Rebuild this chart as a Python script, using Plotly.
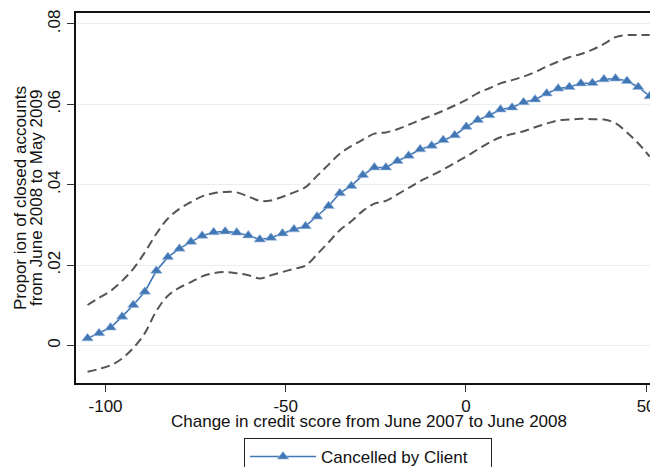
import plotly.graph_objects as go

# ---- data ----
score_change = [-105.0, -101.8, -98.6, -95.4, -92.3, -89.1, -85.9, -82.7, -79.5, -76.3,
                -73.2, -70.0, -66.8, -63.6, -60.4, -57.2, -54.1, -50.9, -47.7, -44.5,
                -41.3, -38.1, -35.0, -31.8, -28.6, -25.4, -22.2, -19.0, -15.9, -12.7,
                -9.5, -6.3, -3.1, 0.1, 3.3, 6.5, 9.6, 12.8, 16.0, 19.2,
                22.4, 25.6, 28.7, 31.9, 35.1, 38.3, 41.5, 44.7, 47.8, 51.0]

cancelled = [0.0018, 0.0031, 0.0045, 0.0072, 0.0101, 0.0134, 0.0186, 0.0220, 0.0241, 0.0258,
             0.0273, 0.0282, 0.0284, 0.0281, 0.0274, 0.0264, 0.0268, 0.0279, 0.0289, 0.0297,
             0.0321, 0.0347, 0.0379, 0.0397, 0.0424, 0.0443, 0.0443, 0.0459, 0.0472, 0.0488,
             0.0497, 0.0511, 0.0523, 0.0544, 0.0561, 0.0573, 0.0587, 0.0592, 0.0605, 0.0612,
             0.0627, 0.0639, 0.0643, 0.0652, 0.0653, 0.0662, 0.0664, 0.0658, 0.0643, 0.0620]

upper_ci = [0.0101, 0.0119, 0.0136, 0.0161, 0.0191, 0.0232, 0.0278, 0.0316, 0.0340, 0.0357,
            0.0371, 0.0379, 0.0382, 0.0381, 0.0371, 0.0360, 0.0361, 0.0370, 0.0381, 0.0394,
            0.0422, 0.0450, 0.0477, 0.0496, 0.0512, 0.0527, 0.0530, 0.0538, 0.0549, 0.0561,
            0.0572, 0.0584, 0.0597, 0.0611, 0.0628, 0.0640, 0.0652, 0.0660, 0.0669, 0.0680,
            0.0694, 0.0706, 0.0717, 0.0725, 0.0736, 0.0750, 0.0767, 0.0772, 0.0772, 0.0772]

lower_ci = [-0.0065, -0.0058, -0.0049, -0.0032, -0.0006, 0.0031, 0.0086, 0.0124, 0.0144, 0.0158,
            0.0172, 0.0180, 0.0183, 0.0180, 0.0175, 0.0167, 0.0175, 0.0183, 0.0191, 0.0199,
            0.0227, 0.0257, 0.0287, 0.0309, 0.0335, 0.0353, 0.0360, 0.0376, 0.0392, 0.0409,
            0.0423, 0.0438, 0.0454, 0.0470, 0.0488, 0.0505, 0.0518, 0.0526, 0.0533, 0.0543,
            0.0552, 0.0560, 0.0562, 0.0564, 0.0563, 0.0562, 0.0553, 0.0530, 0.0503, 0.0470]

x_ticks = [-100, -50, 0, 50]
x_tick_labels = ["-100", "-50", "0", "50"]
y_ticks = [0, 0.02, 0.04, 0.06, 0.08]
y_tick_labels = ["0", ".02", ".04", ".06", ".08"]

series_name = "Cancelled by Client"
x_title = "Change in credit score from June 2007 to June 2008"
y_title_lines = ["Propor ion of closed accounts", "from June 2008 to May 2009"]

# ---- figure ----
FONT = "Liberation Sans, Arial, sans-serif"
FS = 17
BLUE = "#4277B6"
DASH = "#555555"

fig = go.Figure()
for ci in (upper_ci, lower_ci):
    fig.add_trace(go.Scatter(
        x=score_change, y=ci, mode="lines", showlegend=False, hoverinfo="skip",
        line=dict(color=DASH, width=2, dash="9px,5px", shape="spline"),
    ))
fig.add_trace(go.Scatter(
    x=score_change, y=cancelled, mode="lines+markers", name=series_name,
    line=dict(color=BLUE, width=1.6),
    marker=dict(symbol="triangle-up", size=10, color=BLUE,
                line=dict(color="#9DBBDD", width=0.6)),
))

# The page body has an 8px default margin: size the figure so it fits the
# 658x467 window, and place items using page-pixel targets minus that offset.
OFF = 8
W, H = 658 - OFF, 467 - OFF
PLOT_L, PLOT_T, PLOT_B, PLOT_R = 76, 13, 383, 658   # page pixels
L, T = PLOT_L - OFF, PLOT_T - OFF
B = H - (PLOT_B - OFF)
R = W - (PLOT_R - OFF)
pw, ph = W - L - R, H - T - B


def px_x(page_x):
    return (page_x - OFF - L) / pw


def px_y(page_y):
    return (H - B - (page_y - OFF)) / ph


fig.update_layout(
    width=W, height=H,
    margin=dict(l=L, r=R, t=T, b=B, pad=0, autoexpand=False),
    paper_bgcolor="white", plot_bgcolor="white",
    font=dict(family=FONT, size=FS, color="#111111"),
    showlegend=True,
    legend=dict(
        orientation="h", x=px_x(368), xanchor="center",
        y=px_y(438), yanchor="top",
        bordercolor="#222222", borderwidth=1, bgcolor="white",
        itemwidth=66, entrywidth=165, entrywidthmode="pixels",
        font=dict(family=FONT, size=FS, color="#111111"),
    ),
    xaxis=dict(
        range=[-108.2, 53.3], tickvals=x_ticks, ticktext=x_tick_labels,
        automargin=False,
        showgrid=False, zeroline=False,
        showline=True, linecolor="#111111", linewidth=2, mirror=True,
        ticks="outside", ticklen=7, tickwidth=1.2, tickcolor="#333333",
        tickfont=dict(family=FONT, size=FS),
    ),
    yaxis=dict(
        range=[-0.0093, 0.0827], tickvals=y_ticks, ticktext=y_tick_labels,
        tickangle=-90, automargin=False,
        showgrid=True, gridcolor="#E6EFF1", gridwidth=1, zeroline=False,
        showline=True, linecolor="#111111", linewidth=2,
        ticks="outside", ticklen=7, tickwidth=1.2, tickcolor="#333333",
        tickfont=dict(family=FONT, size=FS),
    ),
)

# axis titles
fig.add_annotation(
    text=x_title, xref="paper", yref="paper",
    x=px_x(369), y=px_y(421), xanchor="center", yanchor="middle",
    showarrow=False, font=dict(family=FONT, size=FS, color="#111111"),
)
for page_x, line_text in zip((20, 36), y_title_lines):
    fig.add_annotation(
        text=line_text, xref="paper", yref="paper",
        x=px_x(page_x), y=px_y(198), xanchor="center", yanchor="middle",
        textangle=-90, showarrow=False,
        font=dict(family=FONT, size=FS, color="#111111"),
    )

fig.write_html("out.html")
